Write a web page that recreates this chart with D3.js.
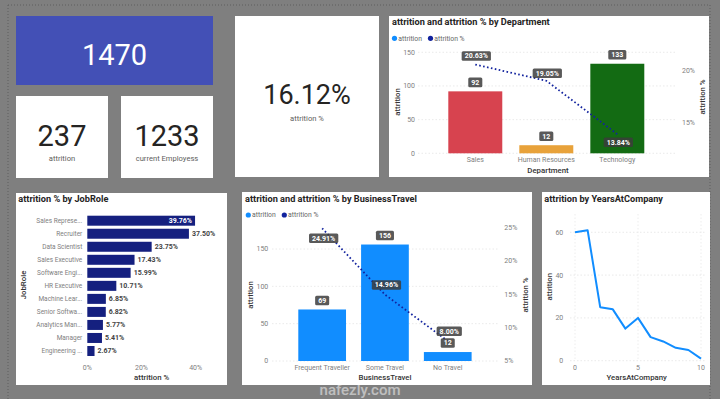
<!DOCTYPE html>
<html><head><meta charset="utf-8">
<script src="https://cdn.jsdelivr.net/npm/d3@7"></script>
<style>
body{margin:0;background:#7f7f7f;overflow:hidden}
svg{display:block;font-family:Roboto,"Open Sans",sans-serif}
</style>
</head><body>
<svg id="c" width="720" height="399"></svg>
<script>
// ---------- DATA ----------
const kpiEmployees = "1470";
const kpiAttrition = "237";
const kpiCurrent = "1233";
const kpiRate = "16.12%";

const departments = ["Sales", "Human Resources", "Technology"];
const deptAttrition = [92, 12, 133];
const deptRate = [20.63, 19.05, 13.84];
const deptColors = ["#D7434F", "#E8A23A", "#136B13"];
const deptLeftTicks = [0, 50, 100, 150];
const deptRightTicks = [15, 20];

const jobRoles = ["Sales Represe...", "Recruiter", "Data Scientist", "Sales Executive", "Software Engi...",
  "HR Executive", "Machine Lear...", "Senior Softwa...", "Analytics Man...", "Manager", "Engineering ..."];
const jobRate = [39.76, 37.50, 23.75, 17.43, 15.99, 10.71, 6.85, 6.82, 5.77, 5.41, 2.67];
const jobTicks = [0, 20, 40];

const travelTypes = ["Frequent Traveller", "Some Travel", "No Travel"];
const travelAttrition = [69, 156, 12];
const travelRate = [24.91, 14.96, 8.00];
const travelLeftTicks = [0, 50, 100, 150];
const travelRightTicks = [5, 10, 15, 20, 25];

const yearsAtCompany = [0, 1, 2, 3, 4, 5, 6, 7, 8, 9, 10];
const yearsAttrition = [60, 61, 25, 24, 15, 20, 11, 9, 6, 5, 1];
const yearsXTicks = [0, 5, 10];
const yearsYTicks = [0, 20, 40, 60];

// ---------- STYLE ----------
const C_BLUE = "#118DFF", C_NAVY = "#12239E", C_JOB = "#15207F";
const C_TEXT = "#252423", C_AXIS = "#808080", C_TITLE = "#333";
const TAG_FILL = "rgba(60,60,60,0.85)";

const svg = d3.select("#c");

// frame dotted lines
svg.append("path").attr("d", "M8,5H710M8,5V399M710,5V399")
  .attr("fill", "none").attr("stroke", "#5e5e5e").attr("stroke-dasharray", "1,2");

function panel(x, y, w, h, fill) {
  svg.append("rect").attr("x", x).attr("y", y).attr("width", w).attr("height", h)
    .attr("fill", fill || "#fff");
}
function txt(g, x, y, s, o) {
  o = o || {};
  const t = g.append("text").attr("x", x).attr("y", y).text(s)
    .attr("font-size", o.size || 7).attr("fill", o.fill || C_AXIS)
    .attr("text-anchor", o.anchor || "start");
  if (o.weight) t.attr("font-weight", o.weight);
  if (o.dy) t.attr("dy", o.dy);
  if (o.rotate) t.attr("transform", `rotate(${o.rotate},${x},${y})`);
  return t;
}
function tag(g, cx, cy, s, fill) {
  const grp = g.append("g");
  const t = grp.append("text").attr("x", cx).attr("y", cy).attr("dy", "0.35em")
    .attr("text-anchor", "middle").attr("fill", "#fff").attr("font-size", 7)
    .attr("font-weight", 700).text(s);
  const w = t.node().getComputedTextLength();
  grp.insert("rect", "text").attr("x", cx - w / 2 - 3).attr("y", cy - 4.8)
    .attr("width", w + 6).attr("height", 9.6).attr("rx", 1.5).attr("fill", fill || TAG_FILL);
}
function title(x, y, s) { txt(svg, x, y, s, { size: 9.2, fill: C_TEXT, weight: 700 }); }
function legend(x, y) {
  svg.append("circle").attr("cx", x).attr("cy", y).attr("r", 2.6).attr("fill", C_BLUE);
  txt(svg, x + 3.8, y, "attrition", { size: 6.8, fill: "#666", dy: "0.35em" });
  svg.append("circle").attr("cx", x + 36).attr("cy", y).attr("r", 2.6).attr("fill", C_NAVY);
  txt(svg, x + 39.8, y, "attrition %", { size: 6.8, fill: "#666", dy: "0.35em" });
}
function grid(g, y, x0, x1) {
  g.append("line").attr("x1", x0).attr("x2", x1).attr("y1", y).attr("y2", y)
    .attr("stroke", "#e4e4e4").attr("stroke-width", 0.8).attr("stroke-dasharray", "1.5,2");
}

// ---------- KPI CARDS ----------
panel(16, 16, 197, 69, "#4350B6");
panel(16, 96, 92, 82);
panel(121, 96, 92, 82);
panel(235, 16, 144, 161);
txt(svg, 114.5, 65, kpiEmployees, { size: 29, fill: "#fff", anchor: "middle" });
txt(svg, 62, 145.7, kpiAttrition, { size: 29, fill: C_TEXT, anchor: "middle" });
txt(svg, 62, 161, "attrition", { size: 7.6, fill: "#605E5C", anchor: "middle" });
txt(svg, 167, 145.7, kpiCurrent, { size: 29, fill: C_TEXT, anchor: "middle" });
txt(svg, 167, 161, "current Employess", { size: 7.6, fill: "#605E5C", anchor: "middle" });
txt(svg, 307, 104, kpiRate, { size: 27, fill: C_TEXT, anchor: "middle" });
txt(svg, 307, 121, "attrition %", { size: 7.6, fill: "#605E5C", anchor: "middle" });

// ---------- DEPARTMENT ----------
panel(389, 16, 320, 161);
title(392, 24.5, "attrition and attrition % by Department");
legend(394.5, 38.3);
{
  const g = svg.append("g");
  const x = d3.scaleBand().domain(departments).range([412.8, 679.8]).paddingInner(0.24).paddingOuter(0.5);
  const yL = d3.scaleLinear().domain([0, 150]).range([153.3, 52.3]);
  const yR = d3.scaleLinear().domain([15, 20]).range([122.3, 71]);
  deptLeftTicks.forEach(t => { grid(g, yL(t), 418, 676); txt(g, 415, yL(t), t, { anchor: "end", dy: "0.35em" }); });
  deptRightTicks.forEach(t => txt(g, 682, yR(t), t + "%", { dy: "0.35em" }));
  g.selectAll("rect.b").data(departments).join("rect").attr("class", "b")
    .attr("x", d => x(d)).attr("width", x.bandwidth())
    .attr("y", (d, i) => yL(deptAttrition[i])).attr("height", (d, i) => yL(0) - yL(deptAttrition[i]))
    .attr("fill", (d, i) => deptColors[i]);
  departments.forEach(d => txt(g, x(d) + x.bandwidth() / 2, 159.5, d, { anchor: "middle", dy: "0.35em" }));
  txt(g, 548, 170, "Department", { size: 7.8, fill: C_TITLE, anchor: "middle", dy: "0.35em", weight: 500 });
  txt(g, 397, 102, "attrition", { size: 7.8, fill: C_TITLE, anchor: "middle", dy: "0.35em", weight: 500, rotate: -90 });
  txt(g, 702, 97, "attrition %", { size: 7.8, fill: C_TITLE, anchor: "middle", dy: "0.35em", weight: 500, rotate: -90 });
  const line = d3.line().x((d, i) => x(departments[i]) + x.bandwidth() / 2).y(d => yR(d));
  g.append("path").datum(deptRate).attr("d", line).attr("fill", "none").attr("stroke", C_NAVY)
    .attr("stroke-width", 1.8).attr("stroke-dasharray", "1.6,2.4");
  departments.forEach((d, i) => tag(g, x(d) + x.bandwidth() / 2, yL(deptAttrition[i]) - 9, deptAttrition[i]));
  const side = [-8.5, -7.5, 8];
  departments.forEach((d, i) => tag(g, x(d) + x.bandwidth() / 2 + 1, yR(deptRate[i]) + side[i], deptRate[i].toFixed(2) + "%"));
}

// ---------- JOB ROLE ----------
panel(16, 193, 211, 192);
title(18.3, 201.5, "attrition % by JobRole");
{
  const g = svg.append("g");
  const x = d3.scaleLinear().domain([0, 40]).range([87.3, 195.7]);
  const y = d3.scaleBand().domain(jobRoles).range([213.75, 357.95]).paddingInner(0.233).paddingOuter(0.15);
  jobTicks.forEach(t => txt(g, x(t), 367.7, t + "%", { anchor: "middle", dy: "0.35em" }));
  g.selectAll("rect").data(jobRoles).join("rect")
    .attr("x", x(0)).attr("y", d => y(d)).attr("height", y.bandwidth())
    .attr("width", (d, i) => x(jobRate[i]) - x(0)).attr("fill", C_JOB);
  jobRoles.forEach((d, i) => {
    txt(g, 82.3, y(d) + y.bandwidth() / 2, d, { anchor: "end", dy: "0.35em", size: 6.5 });
    const lab = txt(g, x(jobRate[i]) + 3, y(d) + y.bandwidth() / 2, jobRate[i].toFixed(2) + "%",
      { dy: "0.35em", size: 7, weight: 700, fill: "#444" });
    const w = lab.node().getComputedTextLength();
    if (x(jobRate[i]) + 3 + w > 219) lab.attr("x", x(jobRate[i]) - 3).attr("text-anchor", "end").attr("fill", "#fff");
  });
  txt(g, 151.7, 377.7, "attrition %", { size: 7.8, fill: C_TITLE, anchor: "middle", dy: "0.35em", weight: 500 });
  txt(g, 23.3, 285, "JobRole", { size: 7.8, fill: C_TITLE, anchor: "middle", dy: "0.35em", weight: 500, rotate: -90 });
}

// ---------- BUSINESS TRAVEL ----------
panel(242, 192, 290, 193);
title(245, 201.5, "attrition and attrition % by BusinessTravel");
legend(248.3, 215);
{
  const g = svg.append("g");
  const x = d3.scaleBand().domain(travelTypes).range([266.9, 503]).paddingInner(0.24).paddingOuter(0.5);
  const yL = d3.scaleLinear().domain([0, 150]).range([361, 249]);
  const yR = d3.scaleLinear().domain([5, 25]).range([361, 227.7]);
  travelLeftTicks.forEach(t => { grid(g, yL(t), 272, 499); txt(g, 268.3, yL(t), t, { anchor: "end", dy: "0.35em" }); });
  travelRightTicks.forEach(t => txt(g, 504.3, yR(t), t + "%", { dy: "0.35em" }));
  g.selectAll("rect.b").data(travelTypes).join("rect").attr("class", "b")
    .attr("x", d => x(d)).attr("width", x.bandwidth())
    .attr("y", (d, i) => yL(travelAttrition[i])).attr("height", (d, i) => yL(0) - yL(travelAttrition[i]))
    .attr("fill", C_BLUE);
  travelTypes.forEach(d => txt(g, x(d) + x.bandwidth() / 2, 367.7, d, { anchor: "middle", dy: "0.35em" }));
  txt(g, 385, 377.7, "BusinessTravel", { size: 7.8, fill: C_TITLE, anchor: "middle", dy: "0.35em", weight: 500 });
  txt(g, 250, 295, "attrition", { size: 7.8, fill: C_TITLE, anchor: "middle", dy: "0.35em", weight: 500, rotate: -90 });
  txt(g, 525, 295, "attrition %", { size: 7.8, fill: C_TITLE, anchor: "middle", dy: "0.35em", weight: 500, rotate: -90 });
  const line = d3.line().x((d, i) => x(travelTypes[i]) + x.bandwidth() / 2).y(d => yR(d));
  g.append("path").datum(travelRate).attr("d", line).attr("fill", "none").attr("stroke", C_NAVY)
    .attr("stroke-width", 1.8).attr("stroke-dasharray", "1.6,2.4");
  travelTypes.forEach((d, i) => tag(g, x(d) + x.bandwidth() / 2, yL(travelAttrition[i]) - 9, travelAttrition[i]));
  const side = [10, -9.6, -9.7];
  travelTypes.forEach((d, i) => tag(g, x(d) + x.bandwidth() / 2 + 1.5, yR(travelRate[i]) + side[i], travelRate[i].toFixed(2) + "%"));
}

// ---------- YEARS AT COMPANY ----------
panel(542, 192, 168, 193);
title(544.3, 201.5, "attrition by YearsAtCompany");
{
  const g = svg.append("g");
  const x = d3.scaleLinear().domain([0, 10]).range([575, 701]);
  const y = d3.scaleLinear().domain([0, 60]).range([360.7, 232.3]);
  yearsYTicks.forEach(t => { grid(g, y(t), 570, 706); txt(g, 563.3, y(t), t, { anchor: "end", dy: "0.35em" }); });
  yearsXTicks.forEach(t => {
    g.append("line").attr("x1", x(t)).attr("x2", x(t)).attr("y1", 214).attr("y2", 361)
      .attr("stroke", "#e8e8e8").attr("stroke-width", 0.8).attr("stroke-dasharray", "1.5,2");
    txt(g, x(t), 367.7, t, { anchor: "middle", dy: "0.35em" });
  });
  const line = d3.line().x((d, i) => x(yearsAtCompany[i])).y(d => y(d));
  g.append("path").datum(yearsAttrition).attr("d", line).attr("fill", "none")
    .attr("stroke", C_BLUE).attr("stroke-width", 2).attr("stroke-linejoin", "round");
  txt(g, 636.7, 377.7, "YearsAtCompany", { size: 7.8, fill: C_TITLE, anchor: "middle", dy: "0.35em", weight: 500 });
  txt(g, 549, 286.7, "attrition", { size: 7.8, fill: C_TITLE, anchor: "middle", dy: "0.35em", weight: 500, rotate: -90 });
}

// ---------- WATERMARK ----------
txt(svg, 360, 395, "nafezly.com", { size: 15, fill: "#fff", anchor: "middle", weight: 500 }).attr("opacity", 0.5);
</script>
</body></html>
